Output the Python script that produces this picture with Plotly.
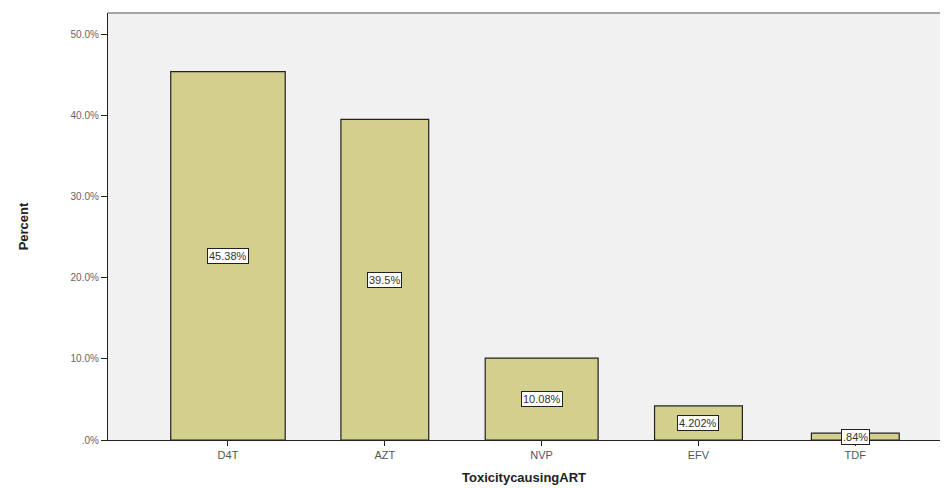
import plotly.graph_objects as go

categories = ["D4T", "AZT", "NVP", "EFV", "TDF"]
percent = [45.38, 39.5, 10.08, 4.202, 0.84]
labels = ["45.38%", "39.5%", "10.08%", "4.202%", ".84%"]
ytick_vals = [0, 10, 20, 30, 40, 50]
ytick_text = [".0%", "10.0%", "20.0%", "30.0%", "40.0%", "50.0%"]
bar_widths = [0.73, 0.56, 0.72, 0.56, 0.56]

fig = go.Figure()
fig.add_trace(go.Bar(
    x=list(range(len(categories))), y=percent,
    width=bar_widths,
    marker=dict(color="#d3cf8c", line=dict(color="#222222", width=1.2)),
    hoverinfo="skip",
))

for i, (v, t) in enumerate(zip(percent, labels)):
    fig.add_annotation(
        x=i, y=v / 2, text=t, showarrow=False,
        font=dict(family="Liberation Sans, Arial", size=11, color="#333333"),
        bgcolor="white", bordercolor="#222222", borderwidth=1, borderpad=1,
    )

fig.update_layout(
    width=946, height=488,
    margin=dict(l=108, r=6, t=13, b=48),
    paper_bgcolor="white",
    plot_bgcolor="#f1f1f1",
    showlegend=False,
    font=dict(family="Liberation Sans, Arial", color="#333333"),
    xaxis=dict(
        range=[-0.765, 4.54],
        tickmode="array", tickvals=list(range(len(categories))), ticktext=categories,
        ticks="outside", ticklen=5, tickcolor="#222222",
        showline=True, linecolor="#222222", linewidth=1.2,
        showgrid=False, zeroline=False,
        tickfont=dict(size=11, color="#555555"),
        title=dict(text="<b>ToxicitycausingART</b>", font=dict(size=13, color="#222222"), standoff=12),
    ),
    yaxis=dict(
        range=[0, 52.6],
        tickmode="array", tickvals=ytick_vals, ticktext=ytick_text,
        ticks="outside", ticklen=6, tickcolor="#222222",
        showline=True, linecolor="#222222", linewidth=1.2, mirror=False,
        showgrid=False, zeroline=False,
        tickfont=dict(size=10, color="#666666"),
        title=dict(text="<b>Percent</b>", font=dict(size=13, color="#222222"), standoff=38),
    ),
)
fig.add_shape(type="line", xref="paper", yref="paper", x0=0, x1=1, y0=1, y1=1,
              line=dict(color="#888888", width=1.5))

fig.write_html("out.html")
